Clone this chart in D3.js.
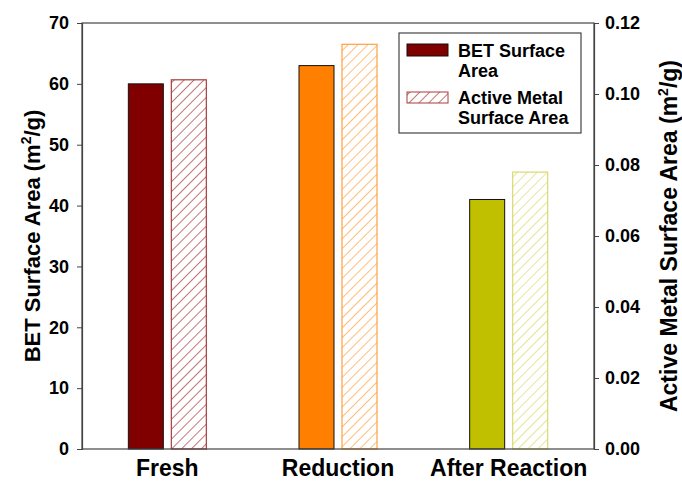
<!DOCTYPE html>
<html>
<head>
<meta charset="utf-8">
<script src="https://cdn.jsdelivr.net/npm/d3@7"></script>
<style>
  body { margin: 0; background: #fff; }
  svg text { font-family: "Liberation Sans", Arial, sans-serif; font-weight: bold; }
</style>
</head>
<body>
<div id="chart"></div>
<script>
// data
const categories = ["Fresh", "Reduction", "After Reaction"];
const betArea = [60, 63, 41];            // m2/g, left axis
const activeArea = [0.104, 0.114, 0.078]; // m2/g, right axis
const leftTicks = [0, 10, 20, 30, 40, 50, 60, 70];
const rightTicks = [0, 0.02, 0.04, 0.06, 0.08, 0.10, 0.12];
const barColors = ["#800000", "#ff8000", "#c0c000"];
const hatchColors = ["#a83c3c", "#ffa040", "#dada70"];

const W = 682, H = 482;
const margin = { top: 23, right: 88, bottom: 33, left: 82 };
const width = W - margin.left - margin.right;
const height = H - margin.top - margin.bottom;

const svg = d3.select("#chart").append("svg")
  .attr("width", W)
  .attr("height", H);

// hatch patterns, one per category colour
const defs = svg.append("defs");
hatchColors.forEach((c, i) => {
  const p = defs.append("pattern")
    .attr("id", "hatch" + i)
    .attr("patternUnits", "userSpaceOnUse")
    .attr("width", 7)
    .attr("height", 7)
    .attr("patternTransform", "rotate(45)");
  p.append("line")
    .attr("x1", 0).attr("y1", 0)
    .attr("x2", 0).attr("y2", 7)
    .attr("stroke", c)
    .attr("stroke-width", 1.4);
});

const g = svg.append("g")
  .attr("transform", "translate(" + margin.left + "," + margin.top + ")");

// scales
const x0 = d3.scalePoint()
  .domain(categories)
  .range([0, width])
  .padding(0.5);
const x1 = d3.scaleBand()
  .domain(["bet", "active"])
  .range([-39, 39])
  .paddingInner(0.186);
const yL = d3.scaleLinear().domain([0, 70]).range([height, 0]);
const yR = d3.scaleLinear().domain([0, 0.12]).range([height, 0]);

// bars
g.selectAll(".bet")
  .data(categories)
  .enter()
  .append("rect")
  .attr("class", "bet")
  .attr("x", (d) => x0(d) + x1("bet"))
  .attr("y", (d, i) => yL(betArea[i]))
  .attr("width", x1.bandwidth())
  .attr("height", (d, i) => height - yL(betArea[i]))
  .attr("fill", (d, i) => barColors[i])
  .attr("stroke", "#111")
  .attr("stroke-width", 1);

g.selectAll(".active")
  .data(categories)
  .enter()
  .append("rect")
  .attr("class", "active")
  .attr("x", (d) => x0(d) + x1("active"))
  .attr("y", (d, i) => yR(activeArea[i]))
  .attr("width", x1.bandwidth())
  .attr("height", (d, i) => height - yR(activeArea[i]))
  .attr("fill", (d, i) => "url(#hatch" + i + ")")
  .attr("stroke", (d, i) => hatchColors[i])
  .attr("stroke-width", 1.2);

// frame
g.append("rect")
  .attr("x", 0).attr("y", 0)
  .attr("width", width).attr("height", height)
  .attr("fill", "none")
  .attr("stroke", "#444")
  .attr("stroke-width", 1.2);

// axes
const axL = g.append("g")
  .call(d3.axisLeft(yL).tickValues(leftTicks).tickSize(5).tickPadding(8).tickFormat(d3.format("d")));
const axR = g.append("g")
  .attr("transform", "translate(" + width + ",0)")
  .call(d3.axisRight(yR).tickValues(rightTicks).tickSize(5).tickPadding(6).tickFormat(d3.format(".2f")));
[axL, axR].forEach((a) => {
  a.select(".domain").attr("stroke", "#444").attr("stroke-width", 1.2);
  a.selectAll(".tick line").attr("stroke", "#444");
  a.selectAll(".tick text")
    .style("font-size", "18px")
    .style("font-family", "'Liberation Sans', Arial, sans-serif")
    .style("font-weight", "bold")
    .attr("fill", "#000");
});

// category labels
g.selectAll(".cat")
  .data(categories)
  .enter()
  .append("text")
  .attr("class", "cat")
  .attr("x", (d) => x0(d))
  .attr("y", height + 27)
  .attr("text-anchor", "middle")
  .style("font-size", "23px")
  .text((d) => d);

// axis titles with superscript
function axisTitle(tx, ty, label, size) {
  const t = svg.append("text")
    .attr("transform", "translate(" + tx + "," + ty + ") rotate(-90)")
    .attr("text-anchor", "middle")
    .style("font-size", size + "px");
  t.append("tspan").text(label + " (m");
  t.append("tspan").attr("dy", -9).style("font-size", "14px").text("2");
  t.append("tspan").attr("dy", 9).text("/g)");
}
axisTitle(40, 236, "BET Surface Area", 22);
axisTitle(677, 236, "Active Metal Surface Area", 23);

// legend
const leg = svg.append("g").attr("transform", "translate(399,33)");
leg.append("rect")
  .attr("width", 182).attr("height", 100)
  .attr("fill", "#fff")
  .attr("stroke", "#444")
  .attr("stroke-width", 1.2);
leg.append("rect")
  .attr("x", 8).attr("y", 11).attr("width", 41).attr("height", 12)
  .attr("fill", barColors[0]).attr("stroke", "#111");
leg.append("rect")
  .attr("x", 8).attr("y", 59).attr("width", 41).attr("height", 11)
  .attr("fill", "url(#hatch0)").attr("stroke", hatchColors[0]);
const legText = [["BET Surface", "Area"], ["Active Metal", "Surface Area"]];
legText.forEach((lines, k) => {
  lines.forEach((s, j) => {
    leg.append("text")
      .attr("x", 59)
      .attr("y", 24 + k * 47 + j * 19.5)
      .style("font-size", "18px")
      .text(s);
  });
});
</script>
</body>
</html>
